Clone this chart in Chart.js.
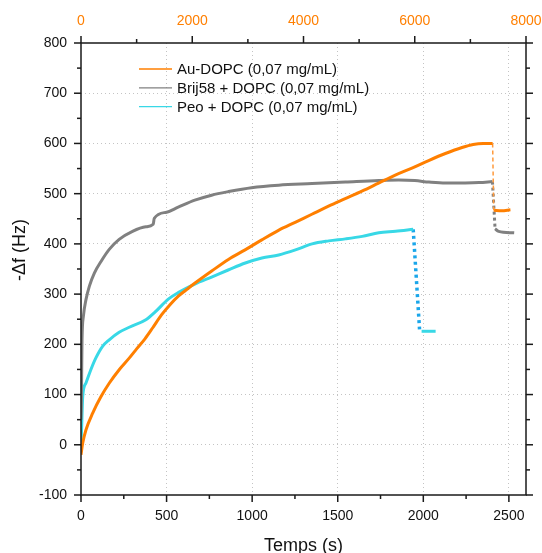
<!DOCTYPE html>
<html>
<head>
<meta charset="utf-8">
<script src="https://cdn.jsdelivr.net/npm/chart.js@4.4.0/dist/chart.umd.min.js"></script>
<style>
	html, body { margin: 0; padding: 0; background: #fff; }
	canvas { display: block; }
</style>
</head>
<body>
<canvas id="chart" width="542" height="553"></canvas>
<script>
	// ---- data ----
	// Au-DOPC : x on the top (orange) axis
	const auX = [0, 30, 90, 210, 360, 510, 690, 870, 1000, 1150, 1290, 1450, 1600, 1750, 1910, 2050, 2350, 2650, 2950, 3250, 3550, 3850, 4150, 4450, 4750, 5050, 5350, 5650, 5950, 6250, 6550, 6850, 7050, 7230, 7400]
	const auY = [-20, 3, 30, 63, 96, 123, 150, 173, 191, 211, 233, 259, 279, 296, 310, 322, 346, 369, 388, 408, 427, 443, 459, 475, 490, 505, 521, 537, 551, 566, 580, 592, 598, 600, 600]
	const auDropX = [7400, 7420]
	const auDropY = [600, 467]
	const auTailX = [7420, 7560, 7720]
	const auTailY = [467, 466, 468]

	// Brij58 + DOPC : x on the bottom axis (s)
	const brijX = [0, 2, 6, 14, 29, 49, 78, 117, 165, 223, 301, 379, 422, 428, 500, 568, 665, 763, 860, 996, 1155, 1350, 1545, 1740, 1857, 1950, 2033, 2130, 2326, 2404]
	const brijY = [50, 76, 209, 256, 289, 316, 342, 365, 389, 409, 425, 434, 439, 451, 463, 473, 487, 497, 504, 512, 517, 520, 523, 526, 527, 526, 523, 521, 522, 524]
	const brijDropX = [2404, 2419]
	const brijDropY = [524, 432]
	const brijTailX = [2419, 2440, 2531]
	const brijTailY = [430, 425, 422]

	// Peo + DOPC : x on the bottom axis (s)
	const peoX = [0, 2, 10, 29, 58, 87, 126, 165, 223, 282, 379, 432, 510, 568, 665, 763, 860, 960, 1057, 1155, 1253, 1350, 1448, 1545, 1643, 1740, 1838, 1941]
	const peoY = [5, 17, 96, 123, 150, 173, 196, 209, 224, 234, 249, 264, 290, 303, 320, 334, 348, 362, 372, 378, 388, 400, 406, 410, 415, 422, 425, 429]
	const peoDropX = [1941, 1978]
	const peoDropY = [429, 230]
	const peoTailX = [1990, 2072]
	const peoTailY = [226, 226]

	const seriesLabels = ['Au-DOPC (0,07 mg/mL)', 'Brij58 + DOPC (0,07 mg/mL)', 'Peo + DOPC (0,07 mg/mL)']

	// axis ranges / ticks
	const timeRange = [0, 2600]
	const timeTicks = [0, 500, 1000, 1500, 2000, 2500]
	const topRange = [0, 8000]
	const topTicks = [0, 2000, 4000, 6000, 8000]
	const freqRange = [-100, 800]
	const freqTicks = [-100, 0, 100, 200, 300, 400, 500, 600, 700, 800]

	// ---- styles ----
	const ORANGE = '#ff7f00'
	const GREY = '#808080'
	const CYAN = '#38d8e6'
	const BLUE = '#1aa6ea'
	const GRID = '#c4c4c4'
	const NONE = 'rgba(0,0,0,0)'
	const FONT = "'Liberation Sans', Arial, sans-serif"

	Chart.defaults.font.family = FONT
	Chart.defaults.color = '#111'

	const toPoints = (xs, ys) => xs.map((x, i) => ({ x: x, y: ys[i] }))

	function line(label, xs, ys, color, width, dash, xAxis, inLegend){
		return {
			label: label,
			data: toPoints(xs, ys),
			borderColor: color,
			backgroundColor: color,
			borderWidth: width,
			borderDash: dash || [],
			pointRadius: 0,
			cubicInterpolationMode: 'monotone',
			fill: false,
			xAxisID: xAxis,
			yAxisID: 'y',
			inLegend: inLegend
		}
	}

	const datasets = [
		line(seriesLabels[0], auX, auY, ORANGE, 3, null, 'x2', true),
		line('', auDropX, auDropY, '#ff9a3c', 1.5, [4, 3], 'x2', false),
		line('', auTailX, auTailY, ORANGE, 3, null, 'x2', false),
		line(seriesLabels[1], brijX, brijY, GREY, 3, null, 'x', true),
		line('', brijDropX, brijDropY, GREY, 3, [3, 3], 'x', false),
		line('', brijTailX, brijTailY, GREY, 3, null, 'x', false),
		line(seriesLabels[2], peoX, peoY, CYAN, 3, null, 'x', true),
		line('', peoDropX, peoDropY, BLUE, 3.5, [3, 3.5], 'x', false),
		line('', peoTailX, peoTailY, CYAN, 3, null, 'x', false)
	]

	const fixTicks = list => s => { s.ticks = list.map(v => ({ value: v })) }
	const innerGrid = range => c => (c.tick && c.tick.value > range[0] && c.tick.value < range[1]) ? GRID : NONE

	// frame, tick marks, y title and legend
	const framePlugin = {
		id: 'framePlugin',
		afterDraw(chart){
			const ctx = chart.ctx
			const a = chart.chartArea
			const sx = chart.scales.x, st = chart.scales.x2, sy = chart.scales.y
			ctx.save()
			ctx.strokeStyle = '#1a1a1a'
			ctx.lineWidth = 1.5
			ctx.strokeRect(a.left, a.top, a.right - a.left, a.bottom - a.top)

			const tick = (x1, y1, x2, y2) => {
				ctx.beginPath(); ctx.moveTo(x1, y1); ctx.lineTo(x2, y2); ctx.stroke()
			}
			const halfStep = list => (list[1] - list[0]) / 2
			// bottom
			for (let v = timeRange[0]; v <= timeRange[1]; v += halfStep(timeTicks)){
				const p = sx.getPixelForValue(v)
				tick(p, a.bottom, p, a.bottom + (timeTicks.includes(v) ? 7 : 4))
			}
			// top
			for (let v = topRange[0]; v <= topRange[1]; v += halfStep(topTicks)){
				const p = st.getPixelForValue(v)
				tick(p, a.top, p, a.top - (topTicks.includes(v) ? 7 : 4))
			}
			// left & right
			for (let v = freqRange[0]; v <= freqRange[1]; v += halfStep(freqTicks)){
				const p = sy.getPixelForValue(v)
				const len = freqTicks.includes(v) ? 7 : 4
				tick(a.left, p, a.left - len, p)
				tick(a.right, p, a.right + len, p)
			}

			// y title
			ctx.fillStyle = '#111'
			ctx.font = '18px ' + FONT
			ctx.textAlign = 'center'
			ctx.textBaseline = 'middle'
			ctx.translate(20, 250)
			ctx.rotate(-Math.PI / 2)
			ctx.fillText('-\u0394f (Hz)', 0, 0)
			ctx.setTransform(1, 0, 0, 1, 0, 0)

			// legend
			ctx.font = '15px ' + FONT
			ctx.textAlign = 'left'
			let y = 69
			chart.data.datasets.filter(d => d.inLegend).forEach(d => {
				ctx.strokeStyle = d.borderColor
				ctx.lineWidth = 1.3
				tick(139, y, 172, y)
				ctx.fillText(d.label, 177, y + 1)
				y += 18.8
			})
			ctx.restore()
		}
	}

	const noPad = s => { s.paddingLeft = 0; s.paddingRight = 0; s.paddingTop = 0; s.paddingBottom = 0 }

	new Chart(document.getElementById('chart'), {
		type: 'line',
		data: { datasets: datasets },
		options: {
			responsive: false,
			animation: false,
			events: [],
			layout: { padding: 0 },
			plugins: { legend: { display: false }, tooltip: { enabled: false } },
			scales: {
				x: {
					type: 'linear', position: 'bottom',
					min: timeRange[0], max: timeRange[1],
					afterBuildTicks: fixTicks(timeTicks),
					ticks: { padding: 13, maxRotation: 0, autoSkip: false, font: { size: 14 }, color: '#111', callback: v => String(v) },
					grid: { drawTicks: false, lineWidth: 1, color: innerGrid(timeRange) },
					border: { display: false, dash: [1, 3] },
					title: { display: true, text: 'Temps (s)', font: { size: 18, lineHeight: 0.8 }, padding: 0, color: '#111' },
					afterFit: s => { s.height = 58; noPad(s) }
				},
				x2: {
					type: 'linear', position: 'top',
					min: topRange[0], max: topRange[1],
					afterBuildTicks: fixTicks(topTicks),
					ticks: { padding: 13, maxRotation: 0, autoSkip: false, font: { size: 14 }, color: ORANGE, callback: v => String(v) },
					grid: { display: false, drawTicks: false },
					border: { display: false },
					afterFit: s => { s.height = 43; noPad(s) }
				},
				y: {
					type: 'linear', position: 'left',
					min: freqRange[0], max: freqRange[1],
					afterBuildTicks: fixTicks(freqTicks),
					ticks: { padding: 14, autoSkip: false, font: { size: 14 }, color: '#111', callback: v => String(v) },
					grid: { drawTicks: false, lineWidth: 1, color: innerGrid(freqRange) },
					border: { display: false, dash: [1, 3] },
					afterFit: s => { s.width = 81; noPad(s) }
				},
				y2: {
					type: 'linear', position: 'right',
					min: freqRange[0], max: freqRange[1],
					ticks: { display: false },
					grid: { display: false, drawTicks: false },
					border: { display: false },
					afterFit: s => { s.width = 16; noPad(s) }
				}
			}
		},
		plugins: [framePlugin]
	})
</script>
</body>
</html>
